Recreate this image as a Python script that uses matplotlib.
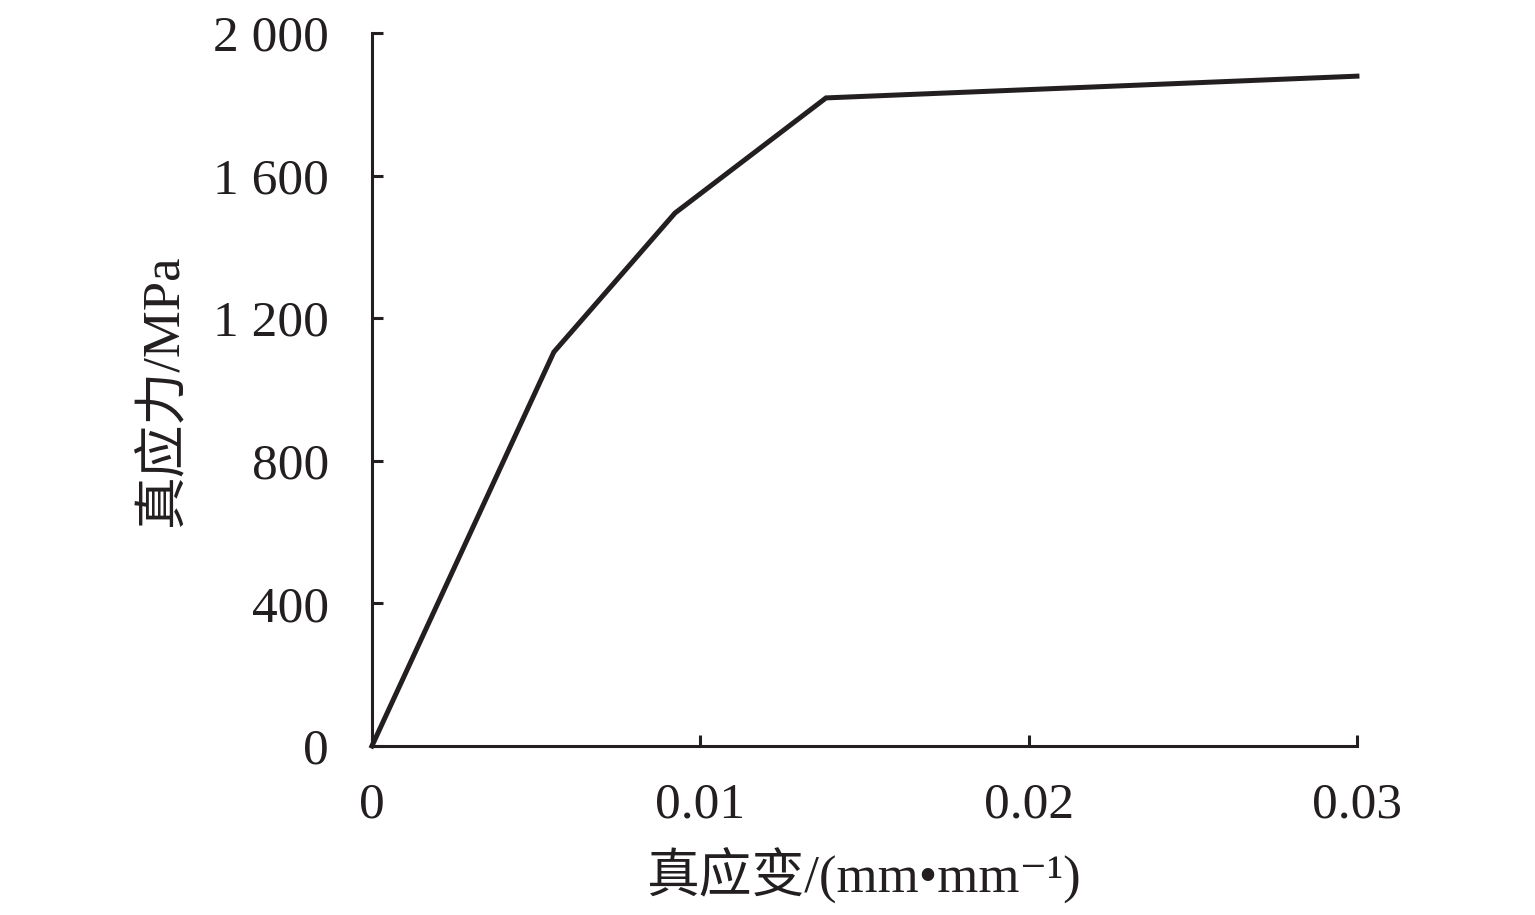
import matplotlib.pyplot as plt

strain = [0, 0.00554, 0.00923, 0.01383, 0.03]
stress = [0, 1105, 1495, 1818, 1879]

xticks = [0, 0.01, 0.02, 0.03]
xticklabels = ['0', '0.01', '0.02', '0.03']
yticks = [0, 400, 800, 1200, 1600, 2000]
yticklabels = ['0', '400', '800', '1 200', '1 600', '2 000']

fonts = ['Liberation Serif', 'Noto Sans CJK SC', 'DejaVu Sans']
plt.rcParams['font.family'] = fonts

fig = plt.figure(figsize=(15.35, 9.15), dpi=100)
ax = fig.add_axes([0.2423, 0.1847, 0.6417, 0.7792])

ax.plot(strain, stress, color='#231f20', lw=3.6, solid_joinstyle='miter', clip_on=False)

ax.set_xlim(0, 0.03)
ax.set_ylim(0, 2000)
ax.set_xticks(xticks)
ax.set_xticklabels(xticklabels)
ax.set_yticks(yticks)
ax.set_yticklabels(yticklabels)

for s in ['top', 'right']:
    ax.spines[s].set_visible(False)
for s in ['left', 'bottom']:
    ax.spines[s].set_linewidth(2.2)
    ax.spines[s].set_color('#231f20')

ax.tick_params(direction='in', length=8, width=2.2, color='#231f20',
               labelsize=37, labelcolor='#231f20')
ax.tick_params(axis='x', pad=26)
ax.tick_params(axis='y', pad=31)

ax.set_xlabel('真应变/(mm•mm⁻¹)', fontsize=38, color='#231f20', labelpad=14)
ax.set_ylabel('真应力/MPa', fontsize=38, color='#231f20', labelpad=18)

fig.savefig('out.png', dpi=100)
